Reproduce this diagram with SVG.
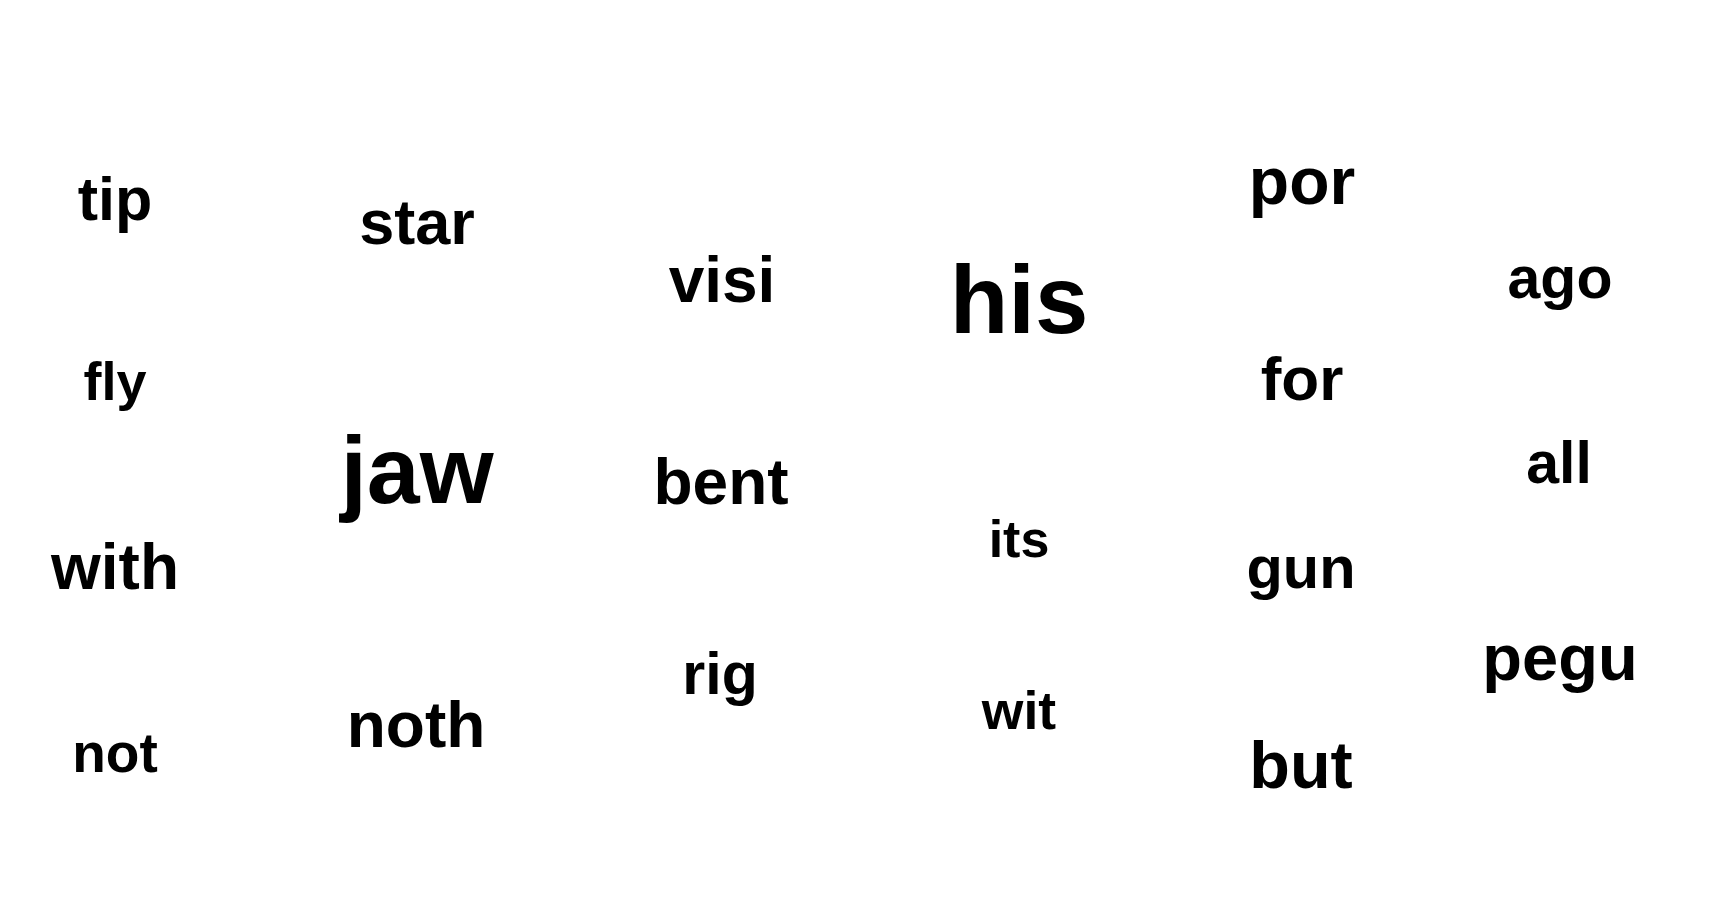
<svg xmlns="http://www.w3.org/2000/svg" width="1713" height="923" viewBox="0 0 1713 923">
<style>
text{font-family:"Liberation Sans",Arial,Helvetica,sans-serif;font-weight:bold;fill:#000;text-anchor:middle}
</style>
<rect width="1713" height="923" fill="#fff"/>
<g id="connectors"/>
<g id="w-tip"><text x="115" y="220" font-size="61">tip</text></g>
<g id="w-star"><text x="417" y="244" font-size="63">star</text></g>
<g id="w-visi"><text x="722" y="302" font-size="64">visi</text></g>
<g id="w-his"><text x="1019" y="333" font-size="96">his</text></g>
<g id="w-por"><text x="1302" y="204" font-size="66">por</text></g>
<g id="w-ago"><text x="1560" y="298" font-size="59">ago</text></g>
<g id="w-fly"><text x="115" y="400" font-size="54">fly</text></g>
<g id="w-jaw"><text x="417" y="503" font-size="95">jaw</text></g>
<g id="w-bent"><text x="721" y="504" font-size="64">bent</text></g>
<g id="w-for"><text x="1302" y="400" font-size="62">for</text></g>
<g id="w-all"><text x="1559" y="483" font-size="59">all</text></g>
<g id="w-with"><text x="115" y="589" font-size="64">with</text></g>
<g id="w-its"><text x="1019" y="557" font-size="52">its</text></g>
<g id="w-gun"><text x="1301" y="588" font-size="59.5">gun</text></g>
<g id="w-pegu"><text x="1560" y="680" font-size="65">pegu</text></g>
<g id="w-rig"><text x="720" y="694" font-size="59">rig</text></g>
<g id="w-wit"><text x="1019" y="729" font-size="53.5">wit</text></g>
<g id="w-not"><text x="115" y="772" font-size="55">not</text></g>
<g id="w-noth"><text x="416" y="747" font-size="64">noth</text></g>
<g id="w-but"><text x="1301" y="788" font-size="66.5">but</text></g>
</svg>
